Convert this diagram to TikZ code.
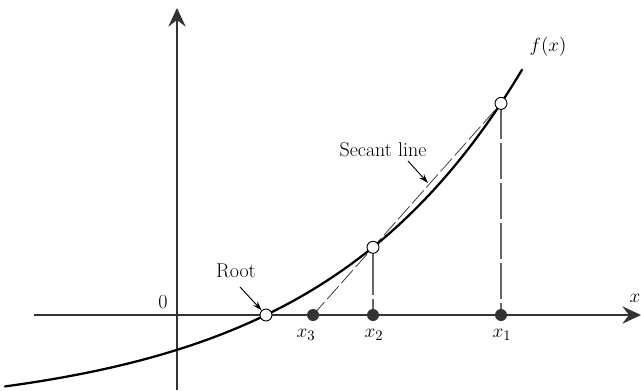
\documentclass[tikz,border=0pt]{standalone}
\usetikzlibrary{arrows.meta}
\begin{document}
\begin{tikzpicture}[x=0.75pt,y=-0.75pt,
  axis/.style={draw=black!80, line width=0.8pt},
  axisarrow/.style={-{Stealth[length=14pt,width=13pt,inset=5pt]}},
  fcurve/.style={line width=1.7pt, line cap=round},
  opendot/.style={circle, draw=black, fill=white, inner sep=0pt, minimum size=9pt, line width=0.7pt},
  soliddot/.style={circle, fill=black!80, inner sep=0pt, minimum size=9pt},
  dashline/.style={draw=black!60, line width=0.8pt, dash pattern=on 27pt off 3pt},
  secline/.style={draw=black!75, line width=0.6pt, dash pattern=on 13pt off 3pt},
  lbl/.style={font=\fontsize{15}{17}\selectfont, inner sep=1pt},
  pointer/.style={line width=0.7pt, -{Stealth[length=7pt,width=4.5pt]}}]
\useasboundingbox (0,0) rectangle (641,390);

% axes
\coordinate (ybot) at (177,390);
\coordinate (ytop) at (177,8);
\coordinate (xleft) at (34,315);
\coordinate (xright) at (641,315);
\draw[axis,axisarrow] (ybot) -- (ytop);
\draw[axis,axisarrow] (xleft) -- (xright);

% points on axis
\coordinate (x3) at (313,315);
\coordinate (x2) at (373,315);
\coordinate (x1) at (501,315);
\coordinate (p2) at (373,247.3);
\coordinate (p1) at (501,103.4);
\coordinate (r) at (266,315);

% dashed lines
\draw[dashline] (p1) -- (x1);
\draw[dashline, dash pattern=on 36pt off 3pt] (p2) -- (x2);
\draw[secline] (x3) -- (p1);

% curve f(x)
\draw[fcurve] plot[domain=5:522, samples=120, smooth] (\x, {315 - (27.38*exp(0.00485*\x) - 99.47)});

% dots
\node[opendot] (root) at (r) {};
\node[opendot] (P2) at (p2) {};
\node[opendot] (P1) at (p1) {};
\node[soliddot] (X3) at (x3) {};
\node[soliddot] (X2) at (x2) {};
\node[soliddot] (X1) at (x1) {};

% labels
\node[lbl] (zero) at (163,302) {0};
\node[lbl] (lx3) at (306,335) {$x_3$};
\node[lbl] (lx2) at (374,335) {$x_2$};
\node[lbl] (lx1) at (502,335) {$x_1$};
\node[lbl] (lx) at (635,298) {$x$};
\node[lbl] (fx) at (548,47) {$f(x)$};
\node[lbl] (rootlbl) at (236,271) {Root};
\node[lbl] (seclbl) at (383,150) {Secant line};

% pointers
\coordinate (ra) at (240,287);
\coordinate (sa) at (408,161);
\coordinate (sb) at (428,183);
\draw[pointer] (ra) -- (root);
\draw[pointer] (sa) -- (sb);
\end{tikzpicture}
\end{document}
